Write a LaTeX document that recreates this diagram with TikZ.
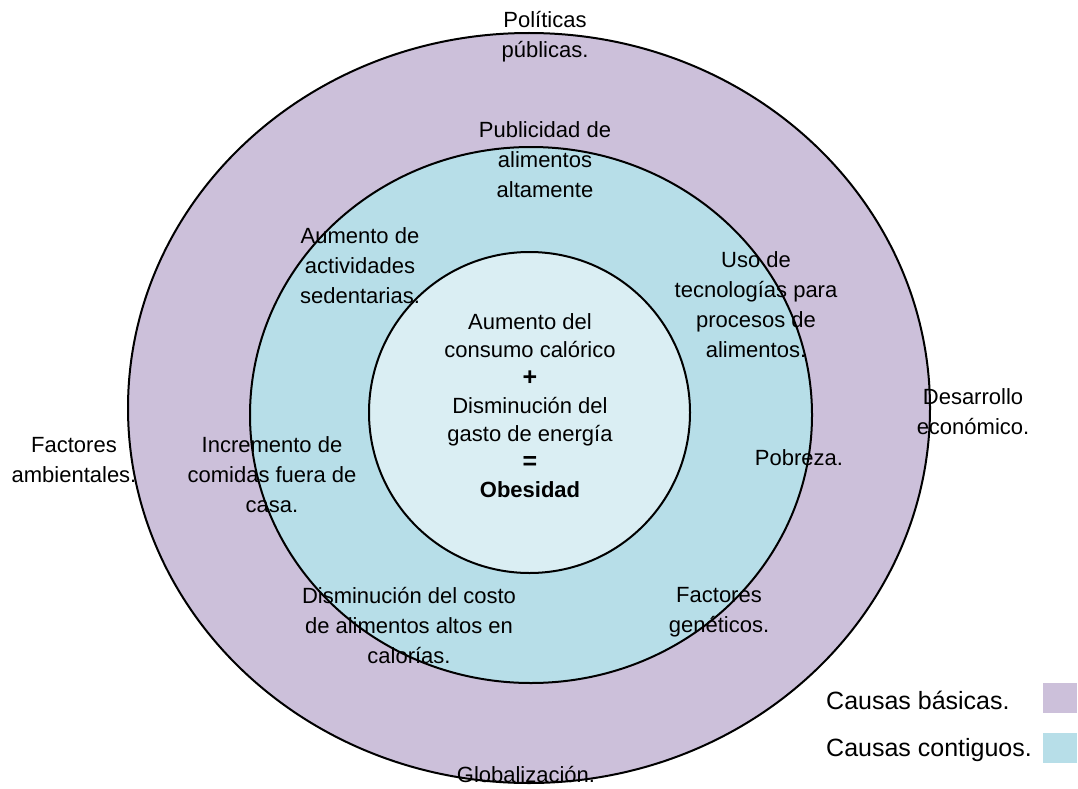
\documentclass[tikz,border=0pt]{standalone}
\usepackage{fontspec}
\setmainfont{Liberation Sans}
\definecolor{basica}{RGB}{204,192,218}
\definecolor{contigua}{RGB}{183,222,232}
\definecolor{centro}{RGB}{218,238,243}
\begin{document}
\begin{tikzpicture}[x=1pt,y=-1pt,
  ring/.style={draw=black,line width=2pt},
  lbl/.style={align=center,inner sep=0pt,font=\fontsize{22}{30}\selectfont},
  leg/.style={anchor=west,inner sep=0pt,font=\fontsize{25}{30}\selectfont},
  swatch/.style={minimum width=34pt,minimum height=30pt,inner sep=0pt}]
\useasboundingbox (0,0) rectangle (1078,789);
\fill[white] (0,0) rectangle (1078,789);
% rings
\draw[ring,fill=basica] (529,408) ellipse [x radius=401, y radius=375];
\draw[ring,fill=contigua] (531,415) ellipse [x radius=281, y radius=268];
\draw[ring,fill=centro] (529.5,412.5) circle [radius=160.5];
% center
\node[lbl,font=\fontsize{22}{28}\selectfont] (centro) at (530,406)
  {Aumento del\\consumo calórico\\{\fontsize{25}{28}\selectfont\textbf{+}}\\Disminución del\\gasto de energía\\{\fontsize{25}{28}\selectfont\textbf{=}}\\\textbf{Obesidad}};
% contiguous causes
\node[lbl] (publicidad) at (545,160) {Publicidad de\\alimentos\\altamente};
\node[lbl] (sedentarias) at (360,266) {Aumento de\\actividades\\sedentarias.};
\node[lbl] (tecnologias) at (756,305) {Uso de\\tecnologías para\\procesos de\\alimentos.};
\node[lbl] (comidas) at (272,475) {Incremento de\\comidas fuera de\\casa.};
\node[lbl] (pobreza) at (799,458) {Pobreza.};
\node[lbl] (costo) at (409,625) {Disminución del costo\\de alimentos altos en\\calorías.};
\node[lbl] (geneticos) at (719,612) {Factores\\genéticos.};
% basic causes
\node[lbl] (politicas) at (545,37) {Políticas\\públicas.};
\node[lbl] (desarrollo) at (973,412) {Desarrollo\\económico.};
\node[lbl] (ambientales) at (74,460) {Factores\\ambientales.};
\node[lbl] (globalizacion) at (526,774) {Globalización.};
% legend
\node[leg] (legb) at (826,700) {Causas básicas.};
\node[leg] (legc) at (826,750) {Causas contiguos.};
\node[swatch,fill=basica] (swb) at (1060,698) {};
\node[swatch,fill=contigua] (swc) at (1060,748) {};
\end{tikzpicture}
\end{document}
